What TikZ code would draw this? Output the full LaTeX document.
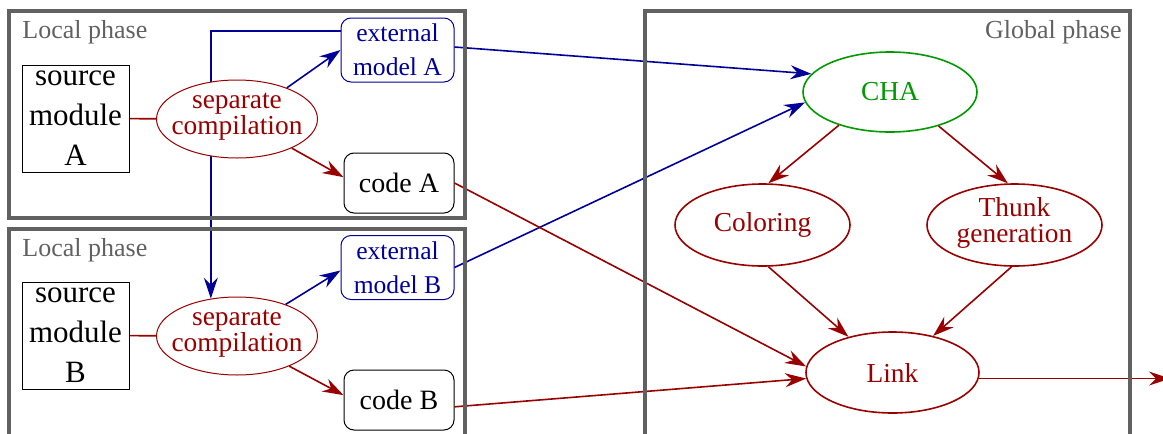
\documentclass[tikz,border=0pt]{standalone}
\usepackage{fontspec}
\setmainfont{Liberation Serif}
\usetikzlibrary{arrows.meta,shapes.geometric,calc}
\definecolor{cred}{HTML}{990000}
\definecolor{cblue}{HTML}{000099}
\definecolor{cgreen}{HTML}{009900}
\definecolor{cgray}{HTML}{616161}
\pgfdeclarelayer{bg}
\pgfsetlayers{bg,main}
\begin{document}
\begin{tikzpicture}[x=0.5pt,y=-0.5pt,
  frame/.style={draw=cgray,line width=1.7pt},
  lbl/.style={text=cgray,font=\fontsize{13}{15}\selectfont,inner sep=0},
  srcbox/.style={draw,line width=0.5pt,minimum width=53.5pt,minimum height=53.5pt,inner sep=0,align=center,font=\fontsize{15.5}{20}\selectfont},
  comp/.style={ellipse,draw=cred,fill=white,line width=0.5pt,minimum width=80.5pt,minimum height=39pt,inner sep=0},
  elltext/.style={text=cred,inner sep=0,align=center,font=\fontsize{13.7}{13}\selectfont},
  extbox/.style={draw=cblue,fill=white,text=cblue,rounded corners=5pt,line width=0.5pt,minimum width=56.5pt,minimum height=32pt,inner sep=0,align=center,font=\fontsize{12.8}{17}\selectfont},
  codebox/.style={draw,fill=white,rounded corners=5pt,line width=0.5pt,minimum width=55pt,minimum height=30pt,inner sep=0,font=\fontsize{14}{16}\selectfont},
  gell/.style={ellipse,draw=cred,fill=white,line width=0.8pt,minimum width=87.5pt,minimum height=41pt,inner sep=0},
  tip/.style={-{Stealth[length=10.5pt,width=7pt,inset=3.5pt]}},
  redl/.style={draw=cred,line width=0.8pt},
  bluel/.style={draw=cblue,line width=0.8pt}
]
\path[use as bounding box,clip] (0,0) rectangle (1163,434);

% local phase A
\node[lbl,anchor=base west] (lblA) at (22,38) {Local phase};
\node[srcbox] (srcA) at (75.5,118.5) {source\\module\\A};
\node[comp] (sepA) at (237,119) {};
\node[elltext] (sepAt) at (237,117) {separate\\compilation};
\node[extbox] (extA) at (397.5,50) {external\\model A};
\node[codebox] (codeA) at (399,183) {code A};

% local phase B
\node[lbl,anchor=base west] (lblB) at (22,256) {Local phase};
\node[srcbox] (srcB) at (75.5,335.5) {source\\module\\B};
\node[comp] (sepB) at (237,336) {};
\node[elltext] (sepBt) at (237,334) {separate\\compilation};
\node[extbox] (extB) at (397.5,267.5) {external\\model B};
\node[codebox] (codeB) at (399,400) {code B};

% global phase
\node[lbl,anchor=base east] (lblG) at (1122,38) {Global phase};
\node[gell,draw=cgreen,minimum height=40pt,minimum width=87pt] (cha) at (890,92) {};
\node[elltext,text=cgreen] (chat) at (cha) {CHA};
\node[gell] (col) at (762.5,225) {};
\node[elltext] (colt) at (col) {Coloring};
\node[gell] (thk) at (1014.5,225) {};
\node[elltext] (thkt) at (1014.5,223) {Thunk\\generation};
\node[gell,minimum width=86.5pt,minimum height=40.5pt] (lnk) at (892.5,372.5) {};
\node[elltext] (lnkt) at (lnk) {Link};
\coordinate (outp) at (1170,378);

\begin{pgfonlayer}{bg}
  \draw[bluel,tip] ([yshift=9.5pt]extA.west) -| (sepB.125);
\end{pgfonlayer}

% local connectors
\draw[redl] (srcA) -- (sepA);
\draw[redl] (srcB) -- (sepB);
\draw[bluel,tip] (sepA.32) -- (extA.west);
\draw[redl,tip] (sepA.332) -- (codeA.174);
\draw[bluel,tip] (sepB.33) -- (extB.183);
\draw[redl,tip] (sepB.330) -- (codeB.175);

% cross connectors
\draw[bluel,tip] (extA.3) -- (cha.167);
\draw[bluel,tip] (extB.east) -- (cha.187);
\draw[redl,tip] (codeA.east) -- (lnk.176);
\draw[redl,tip] (codeB.353) -- (lnk.184);

% global connectors
\draw[redl,tip] (cha.213) -- (col.82);
\draw[redl,tip] (cha.325) -- (thk.99);
\draw[redl,tip] (col.278) -- (lnk.141);
\draw[redl,tip] (thk.266) -- (lnk.42);
\draw[redl,tip] (lnk.-4) -- (lnk.-4 -| outp);

% frames
\draw[frame] (9,11) rectangle (465,218);
\draw[frame] (9,229) rectangle (465,470);
\draw[frame] (645,11) rectangle (1130,470);
\end{tikzpicture}
\end{document}
